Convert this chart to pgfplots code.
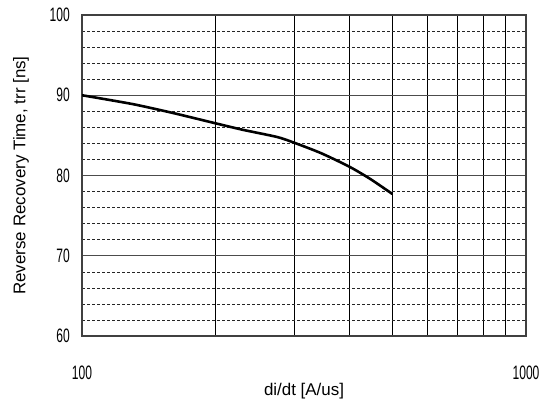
\documentclass[border=0pt]{standalone}
\usepackage{pgfplots}
\pgfplotsset{compat=1.18}
\usepackage{fontspec}
\setmainfont{Liberation Sans}
\newfontfamily\narrowfont[FakeStretch=0.62]{Liberation Sans}
\begin{document}
\begin{tikzpicture}
\useasboundingbox (0,0) rectangle (549bp,408bp);
\begin{axis}[
  at={(82bp,72bp)}, anchor=south west,
  scale only axis, width=444bp, height=321bp,
  xmode=log, xmin=100, xmax=1000,
  ymin=60, ymax=100,
  xtick={100,1000}, xticklabels={100,1000},
  minor xtick={200,300,400,500,600,700,800,900},
  ytick={60,70,80,90,100},
  minor ytick={62,64,66,68,72,74,76,78,82,84,86,88,92,94,96,98},
  major tick length=0pt, minor tick length=0pt,
  xminorgrids, ymajorgrids, yminorgrids,
  minor x grid style={black, line width=0.6pt},
  major y grid style={black!70, line width=0.9pt},
  minor y grid style={black!85, line width=0.6pt, dash pattern=on 3bp off 2bp},
  axis line style={black!75, line width=1.1pt},
  /pgf/number format/assume math mode=true,
  ticklabel style={font=\narrowfont\fontsize{19.5}{19.5}\selectfont},
  xticklabel style={anchor=center, yshift=-37bp},
  yticklabel style={anchor=east, inner sep=0pt, xshift=-12bp},
  xlabel={di/dt [A/us]},
  ylabel={Reverse Recovery Time, trr [ns]},
  label style={font=\fontsize{17}{17}\selectfont},
  xlabel style={at={(axis description cs:0.5,-0.1713)}, anchor=center},
  ylabel style={at={(axis description cs:-0.1374,0.5)}, anchor=center},
]
\addplot[black, line width=2.6pt, smooth, tension=0.4] coordinates {
  (100,90.0) (130,88.9) (160,87.8) (200,86.5) (230,85.7) (275,84.8)
  (300,84.1) (345,82.8) (400,81.1) (445,79.6) (500,77.7)
};
\end{axis}
\end{tikzpicture}
\end{document}
